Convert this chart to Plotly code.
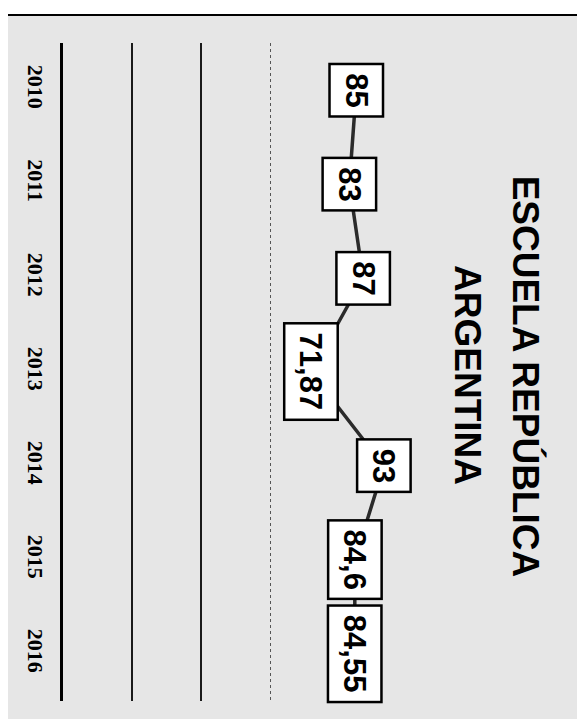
import plotly.graph_objects as go

years = ['2010', '2011', '2012', '2013', '2014', '2015', '2016']
values = [85, 83, 87, 71.87, 93, 84.6, 84.55]
labels = ['85', '83', '87', '71,87', '93', '84,6', '84,55']
title_lines = ['ESCUELA REPÚBLICA', 'ARGENTINA']
grid_solid = [20, 40]
grid_dotted = [60]
x_max = 148.4

fig = go.Figure()
fig.add_trace(go.Scatter(
    x=values, y=years, mode='lines',
    line=dict(color='#2b2b2b', width=3.5),
    hoverinfo='skip', showlegend=False))
fig.add_trace(go.Scatter(x=[None], y=[None], xaxis='x2', showlegend=False, hoverinfo='skip'))

# data labels (category axis: position given by category index)
for i, (v, lab) in enumerate(zip(values, labels)):
    fig.add_annotation(
        x=v, y=i, xref='x', yref='y', text=lab, textangle=90, showarrow=False,
        font=dict(family='Liberation Sans, Arial, sans-serif', size=31, color='black', weight='bold'),
        bgcolor='white', bordercolor='black', borderwidth=2.5, borderpad=8,
        xanchor='center', yanchor='middle')

# title, rotated like the scanned page
fig.add_annotation(
    x=0.905, y=0.4924, xref='paper', yref='paper', text=title_lines[0], textangle=90,
    showarrow=False, xanchor='center', yanchor='middle',
    font=dict(family='Liberation Sans, Arial, sans-serif', size=37, color='black', weight='bold'))
fig.add_annotation(
    x=0.791, y=0.4954, xref='paper', yref='paper', text=title_lines[1], textangle=90,
    showarrow=False, xanchor='center', yanchor='middle',
    font=dict(family='Liberation Sans, Arial, sans-serif', size=37, color='black', weight='bold'))

# page background and border
fig.add_shape(type='rect', xref='paper', yref='paper', x0=-0.119, x1=1.0059, y0=-0.04, y1=1.0426,
              fillcolor='#e6e6e6', line=dict(color='#555', width=1, dash='dot'), layer='below')
fig.add_shape(type='line', xref='paper', yref='paper', x0=-0.125, x1=1.02, y0=1.0426, y1=1.0426,
              line=dict(color='black', width=2))

fig.update_layout(
    width=577, height=711, autosize=False,
    margin=dict(l=55, r=10, t=35, b=18),
    paper_bgcolor='white', plot_bgcolor='rgba(0,0,0,0)',
    showlegend=False,
    xaxis=dict(range=[0, x_max], tickvals=grid_solid, showticklabels=False, ticks='',
               showgrid=True, gridcolor='#1a1a1a', gridwidth=1.5, zeroline=False, showline=False),
    xaxis2=dict(range=[0, x_max], overlaying='x', side='bottom', tickvals=grid_dotted,
                showticklabels=False, ticks='', showgrid=True, gridcolor='#555', gridwidth=1,
                griddash='dot', zeroline=False, showline=False),
    yaxis=dict(type='category', categoryorder='array', categoryarray=years,
               range=[6.5, -0.5], showline=True, linecolor='black', linewidth=3,
               showgrid=False, zeroline=False, ticks='', tickangle=90, ticklabelstandoff=6,
               tickfont=dict(family='Liberation Serif, Times New Roman, serif', size=22,
                             color='black', weight='bold')),
)

fig.write_html('out.html')
